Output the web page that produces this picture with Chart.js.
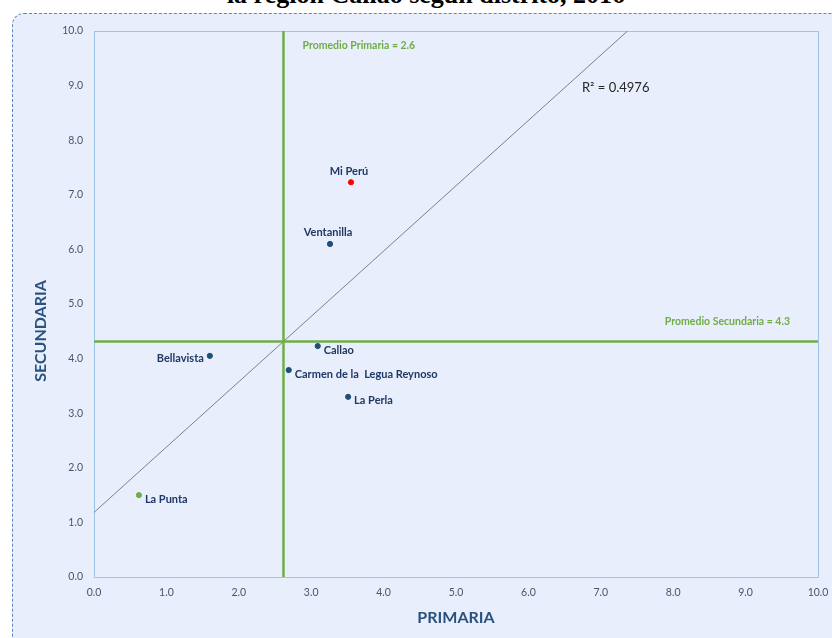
<!DOCTYPE html>
<html>
<head>
<meta charset="utf-8">
<script src="https://cdn.jsdelivr.net/npm/chart.js@4.4.1/dist/chart.umd.min.js"></script>
<style>
  html, body { margin:0; padding:0; width:832px; height:638px; overflow:hidden; background:#ffffff; }
  #box { position:absolute; left:12px; top:13px; width:860px; height:660px; box-sizing:border-box;
         border:1px dashed #5b87c5; border-radius:12px; background:#e8eefb; }
  #title { position:absolute; left:0; width:852px; top:-20px; text-align:center;
           font-family:"Liberation Serif","Times New Roman",serif; font-weight:bold; font-size:26px; color:#000; white-space:nowrap; }
  #wrap { position:absolute; left:0; top:0; width:832px; height:638px; }
</style>
</head>
<body>
<div id="box"></div>
<div id="title">la región Callao según distrito, 2016</div>
<div id="wrap"><canvas id="c" width="832" height="638"></canvas></div>
<script>
// ---- Data ----
const districts  = ['Mi Perú', 'Ventanilla', 'Callao', 'Bellavista', 'Carmen de la  Legua Reynoso', 'La Perla', 'La Punta'];
const primaria   = [3.55, 3.26, 3.09, 1.60, 2.69, 3.51, 0.62];
const secundaria = [7.23, 6.10, 4.23, 4.05, 3.79, 3.30, 1.50];
const axisTicks  = [0, 1, 2, 3, 4, 5, 6, 7, 8, 9, 10];
const r2Label    = 'R² = 0.4976';
const xTitle     = 'PRIMARIA';
const yTitle     = 'SECUNDARIA';

// ---- Styles (kept apart from data) ----
const pointColors = ['#ff0000', '#1f4e79', '#1f4e79', '#1f4e79', '#1f4e79', '#1f4e79', '#70ad47'];
const labelPlace  = ['above', 'above', 'right', 'left', 'right', 'right', 'right'];
const GREEN = '#70ad47';
const TITLE_COLOR = '#2a527e';
const FONT = 'Lato, "Open Sans", sans-serif';

// ---- Derived statistics (least squares + means) ----
const n = primaria.length;
const meanX = primaria.reduce((a, b) => a + b, 0) / n;
const meanY = secundaria.reduce((a, b) => a + b, 0) / n;
let sxy = 0, sxx = 0;
for (let i = 0; i < n; i++) {
  const dx = primaria[i] - meanX, dy = secundaria[i] - meanY;
  sxy += dx * dy; sxx += dx * dx;
}
const slope = sxy / sxx;
const intercept = meanY - slope * meanX;
const xAtTop = (10 - intercept) / slope;

const points = primaria.map((x, i) => ({ x: x, y: secundaria[i] }));

const frame = {
  id: 'frame',
  beforeDatasetsDraw(chart) {
    const a = chart.chartArea, ctx = chart.ctx;
    ctx.save();
    ctx.strokeStyle = '#9dc3e6';
    ctx.lineWidth = 1;
    ctx.strokeRect(Math.round(a.left) + 0.5, Math.round(a.top) + 0.5, Math.round(a.right - a.left), Math.round(a.bottom - a.top));
    // y axis title (sits lower than the axis middle, as in the reference)
    ctx.translate(41, 331);
    ctx.rotate(-Math.PI / 2);
    ctx.font = 'bold 16px ' + FONT;
    ctx.fillStyle = TITLE_COLOR;
    ctx.textAlign = 'center';
    ctx.textBaseline = 'middle';
    ctx.fillText(yTitle, 0, 0);
    ctx.restore();
  },
  afterDatasetsDraw(chart) {
    const ctx = chart.ctx, xs = chart.scales.x, ys = chart.scales.y, a = chart.chartArea;
    ctx.save();
    // point labels
    ctx.font = 'bold 11px ' + FONT;
    ctx.fillStyle = '#1f3864';
    const meta = chart.getDatasetMeta(3);
    meta.data.forEach((el, i) => {
      const p = labelPlace[i];
      ctx.textBaseline = 'middle';
      if (p === 'above') { ctx.textAlign = 'center'; ctx.fillText(districts[i], el.x - 2, el.y - 11); }
      else if (p === 'right') { ctx.textAlign = 'left'; ctx.fillText(districts[i], el.x + 6, el.y + 4); }
      else { ctx.textAlign = 'right'; ctx.fillText(districts[i], el.x - 6, el.y + 3); }
    });
    // mean annotations
    ctx.font = 'bold 10.5px ' + FONT;
    ctx.fillStyle = GREEN;
    ctx.textAlign = 'left'; ctx.textBaseline = 'middle';
    ctx.fillText('Promedio Primaria = ' + meanX.toFixed(1), xs.getPixelForValue(meanX) + 19, a.top + 15);
    ctx.textAlign = 'right';
    ctx.fillText('Promedio Secundaria = ' + meanY.toFixed(1), a.right - 28, ys.getPixelForValue(meanY) - 20);
    // R²
    ctx.font = '13px ' + FONT;
    ctx.fillStyle = '#262626';
    ctx.textAlign = 'left';
    ctx.fillText(r2Label, xs.getPixelForValue(6.74), ys.getPixelForValue(8.96));
    ctx.restore();
  }
};

new Chart(document.getElementById('c'), {
  type: 'scatter',
  data: {
    datasets: [
      { type: 'line', data: [{ x: 0, y: intercept }, { x: xAtTop, y: 10 }], borderColor: '#808080', borderWidth: 1, pointRadius: 0, fill: false, order: 3 },
      { type: 'line', data: [{ x: meanX, y: 0 }, { x: meanX, y: 10 }], borderColor: GREEN, borderWidth: 2.5, pointRadius: 0, fill: false, order: 2 },
      { type: 'line', data: [{ x: 0, y: meanY }, { x: 10, y: meanY }], borderColor: GREEN, borderWidth: 2.5, pointRadius: 0, fill: false, order: 2 },
      { data: points, backgroundColor: pointColors, borderColor: pointColors, pointRadius: 2.6, pointHoverRadius: 2.6, order: 1 }
    ]
  },
  options: {
    responsive: false,
    animation: false,
    devicePixelRatio: 1,
    layout: { padding: { top: 31, right: 14, left: 0, bottom: 0 } },
    plugins: { legend: { display: false }, tooltip: { enabled: false } },
    scales: {
      x: {
        type: 'linear', min: 0, max: 10,
        afterBuildTicks(s) { s.ticks = axisTicks.map(v => ({ value: v })); },
        afterFit(s) { s.height = 61; s.paddingRight = 0; s.paddingLeft = 0; },
        grid: { display: false, drawTicks: false },
        border: { display: false },
        ticks: { padding: 9, color: '#4a5568', font: { family: FONT, size: 10.5 }, callback: v => Number(v).toFixed(1), maxRotation: 0 },
        title: { display: true, text: xTitle, color: TITLE_COLOR, font: { family: FONT, size: 16, weight: 'bold' }, padding: { top: 0, bottom: 11 } }
      },
      y: {
        type: 'linear', min: 0, max: 10,
        afterBuildTicks(s) { s.ticks = axisTicks.map(v => ({ value: v })); },
        afterFit(s) { s.width = 94; },
        grid: { display: false, drawTicks: false },
        border: { display: false },
        ticks: { padding: 11, color: '#4a5568', font: { family: FONT, size: 10.5 }, callback: v => Number(v).toFixed(1) },
        title: { display: false }
      }
    }
  },
  plugins: [frame]
});
</script>
</body>
</html>
